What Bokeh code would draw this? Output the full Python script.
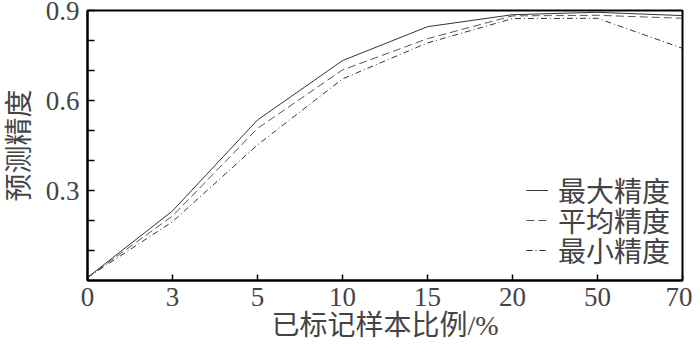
from bokeh.plotting import figure
from bokeh.models import FixedTicker, Legend, LegendItem, Range1d
from bokeh.embed import file_html
from bokeh.resources import INLINE

x_labels = ["0", "3", "5", "10", "15", "20", "50", "70"]
x_pos = list(range(len(x_labels)))
max_acc = [0.01, 0.232, 0.535, 0.733, 0.846, 0.886, 0.894, 0.883]
avg_acc = [0.01, 0.215, 0.507, 0.702, 0.806, 0.882, 0.884, 0.874]
min_acc = [0.01, 0.196, 0.452, 0.672, 0.792, 0.873, 0.874, 0.774]
series_names = ["最大精度", "平均精度", "最小精度"]
y_major = [0.3, 0.6, 0.9]
y_minor = [0.1, 0.2, 0.4, 0.5, 0.7, 0.8]

p = figure(width=692, height=365, output_backend="svg", toolbar_location=None,
           x_range=Range1d(0, 7), y_range=Range1d(0, 0.9),
           min_border_left=83, min_border_right=10, min_border_top=18, min_border_bottom=77)
p.styles = {"margin-top": "-8px"}
p.grid.visible = False
p.outline_line_color = "black"
p.outline_line_width = 2
p.background_fill_color = "white"
p.border_fill_color = "white"

serif = "Liberation Serif"
cjk = "'Liberation Serif', 'Noto Sans CJK SC'"

xa = p.xaxis[0]
xa.ticker = FixedTicker(ticks=x_pos)
xa.major_label_overrides = {i: s for i, s in zip(x_pos, x_labels)}
xa.major_tick_in = 6
xa.major_tick_out = 0
xa.minor_tick_in = 0
xa.minor_tick_out = 0
xa.axis_line_width = 2
xa.major_tick_line_width = 1.5
xa.major_label_text_font = serif
xa.major_label_text_font_size = "27px"
xa.major_label_standoff = 7
xa.axis_label = "已标记样本比例/%"
xa.axis_label_text_font = cjk
xa.axis_label_text_font_size = "28px"
xa.axis_label_text_font_style = "normal"
xa.axis_label_standoff = 1

ya = p.yaxis[0]
ya.ticker = FixedTicker(ticks=y_major, minor_ticks=y_minor)
ya.major_tick_in = 7
ya.major_tick_out = 0
ya.minor_tick_in = 7
ya.minor_tick_out = 0
ya.axis_line_width = 2
ya.major_tick_line_width = 1.5
ya.minor_tick_line_width = 1.5
ya.major_label_text_font = serif
ya.major_label_text_font_size = "27px"
ya.major_label_standoff = 8
ya.axis_label = "预测精度"
ya.axis_label_text_font = cjk
ya.axis_label_text_font_size = "28px"
ya.axis_label_text_font_style = "normal"
ya.axis_label_standoff = 8

r1 = p.line(x_pos, max_acc, line_color="#333333", line_width=1)
r2 = p.line(x_pos, avg_acc, line_color="#555555", line_width=1, line_dash="8 4")
r3 = p.line(x_pos, min_acc, line_color="#333333", line_width=1, line_dash="6 3 1 3")

renderers = [r1, r2, r3]
n = len(renderers)
for k, (name, r) in enumerate(zip(series_names, renderers)):
    lg = Legend(items=[LegendItem(label=name, renderers=[r])],
                location=(439, 10 + 30 * (n - 1 - k)), border_line_color=None,
                background_fill_alpha=0, padding=0, margin=0, spacing=0,
                glyph_width=22, glyph_height=30, label_height=30, label_standoff=10,
                label_text_font=cjk, label_text_font_size="28px")
    p.add_layout(lg)

open("out.html", "w").write(file_html(p, INLINE))
